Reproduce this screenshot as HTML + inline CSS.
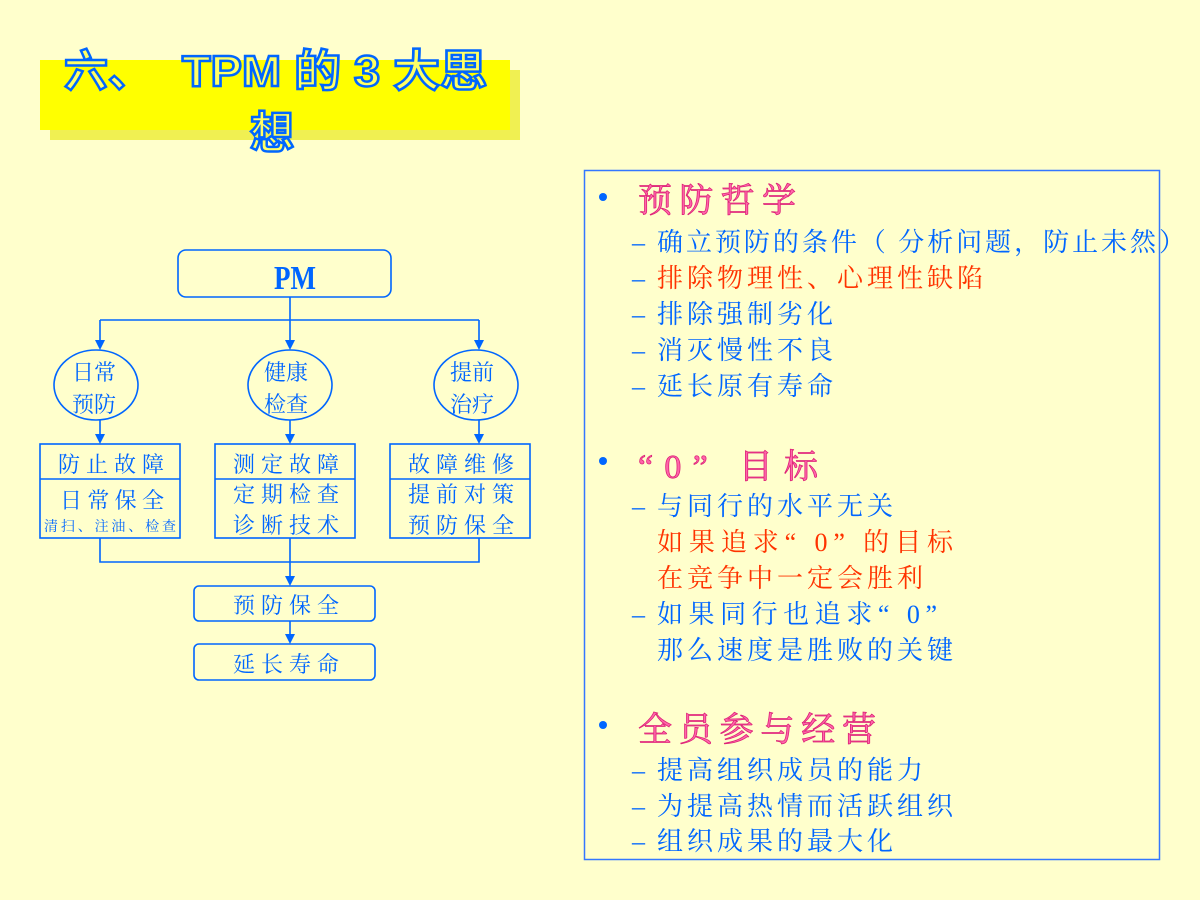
<!DOCTYPE html>
<html><head><meta charset="utf-8"><style>
html,body{margin:0;padding:0;background:#ffffcc;}
svg{display:block}
.s{font-family:"Liberation Serif","Noto Serif CJK SC",serif;}
</style></head><body>
<svg width="1200" height="900" viewBox="0 0 1200 900" xmlns="http://www.w3.org/2000/svg" class="s">
<rect width="1200" height="900" fill="#ffffcc"/>
<rect x="50" y="70" width="470" height="70" fill="#e6e600" opacity="0.6"/>
<rect x="40" y="60" width="470" height="70" fill="#ffff00"/>
<g font-family="Liberation Sans,Noto Sans CJK SC,sans-serif" font-weight="bold" font-size="44" fill="#ffff66" stroke="#0066ff" stroke-width="2.5">
<text x="64" y="86">六、</text>
<text x="182" y="86" textLength="305" lengthAdjust="spacingAndGlyphs">TPM 的 3 大思</text>
<text x="250" y="148">想</text>
</g>
<g fill="none" stroke="#0066ff" stroke-width="1.6">
<rect x="178" y="250" width="213" height="47" rx="8"/>
<path d="M290 297V340M100 320H479M100 320V340M479 320V340"/>
<ellipse cx="96" cy="385" rx="42" ry="35"/>
<ellipse cx="290" cy="385" rx="42" ry="35"/>
<ellipse cx="476" cy="385" rx="42" ry="35"/>
<path d="M100 420V436M290 420V436M479 420V436"/>
<rect x="40" y="444" width="140" height="94"/><path d="M40 479H180"/>
<rect x="215" y="444" width="140" height="94"/><path d="M215 479H355"/>
<rect x="390" y="444" width="140" height="94"/><path d="M390 479H530"/>
<path d="M100 538V562H479V538M290 538V578"/>
<rect x="194" y="586" width="181" height="35" rx="5"/>
<path d="M290 621V636"/>
<rect x="194" y="644" width="181" height="36" rx="5"/>
</g>
<g fill="#0066ff">
<path d="M95 340h10l-5 10zM285 340h10l-5 10zM474 340h10l-5 10z"/>
<path d="M95 434h10l-5 10zM285 434h10l-5 10zM474 434h10l-5 10z"/>
<path d="M285 576h10l-5 10zM285 634h10l-5 10z"/>
</g>
<g fill="#0066ff" font-size="22">
<text x="274" y="289" font-size="34" font-weight="bold" font-family="Liberation Serif,serif" textLength="42" lengthAdjust="spacingAndGlyphs">PM</text>
<text x="72" y="380">日常</text><text x="72" y="412">预防</text>
<text x="264" y="380">健康</text><text x="264" y="412">检查</text>
<text x="450" y="380">提前</text><text x="450" y="412">治疗</text>
<text x="58" y="472" textLength="106">防止故障</text>
<text x="60" y="508" textLength="104">日常保全</text>
<text x="44" y="531" font-size="14" textLength="132">清扫、注油、检查</text>
<text x="233" y="472" textLength="106">测定故障</text>
<text x="233" y="502" textLength="106">定期检查</text>
<text x="233" y="533" textLength="106">诊断技术</text>
<text x="408" y="472" textLength="106">故障维修</text>
<text x="408" y="502" textLength="106">提前对策</text>
<text x="408" y="533" textLength="106">预防保全</text>
<text x="233" y="613" textLength="106">预防保全</text>
<text x="233" y="672" textLength="106">延长寿命</text>
</g>
<rect x="584.5" y="170.5" width="575" height="689" fill="none" stroke="#3377ff" stroke-width="1.5"/>
<g fill="#0066ff"><circle cx="603" cy="197" r="4"/><circle cx="603" cy="461" r="4"/><circle cx="603" cy="725" r="4"/></g>
<g font-size="34" fill="#ff66aa" stroke="#dd2277" stroke-width="0.8">
<text x="638" y="212" textLength="158">预防哲学</text>
<text x="638" y="478" textLength="180">“0” 目标</text>
<text x="638" y="741" textLength="238">全员参与经营</text>
</g>
<g font-size="26" fill="#0066ff">
<text x="632" y="251">–</text>
<text x="657" y="251" textLength="528">确立预防的条件（ 分析问题，防止未然）</text>
<text x="632" y="287">–</text>
<text x="657" y="287" fill="#ff3300" textLength="326">排除物理性、心理性缺陷</text>
<text x="632" y="323">–</text><text x="657" y="323" textLength="176">排除强制劣化</text>
<text x="632" y="359">–</text><text x="657" y="359" textLength="176">消灭慢性不良</text>
<text x="632" y="395">–</text><text x="657" y="395" textLength="176">延长原有寿命</text>
<text x="632" y="515">–</text><text x="657" y="515" textLength="236">与同行的水平无关</text>
<text x="657" y="551" fill="#ff3300" textLength="296">如果追求“ 0” 的目标</text>
<text x="657" y="587" fill="#ff3300" textLength="266">在竞争中一定会胜利</text>
<text x="632" y="623">–</text><text x="657" y="623" textLength="280">如果同行也追求“ 0”</text>
<text x="657" y="659" textLength="296">那么速度是胜败的关键</text>
<text x="632" y="779">–</text><text x="657" y="779" textLength="266">提高组织成员的能力</text>
<text x="632" y="815">–</text><text x="657" y="815" textLength="296">为提高热情而活跃组织</text>
<text x="632" y="850">–</text><text x="657" y="850" textLength="236">组织成果的最大化</text>
</g>
</svg>
</body></html>
